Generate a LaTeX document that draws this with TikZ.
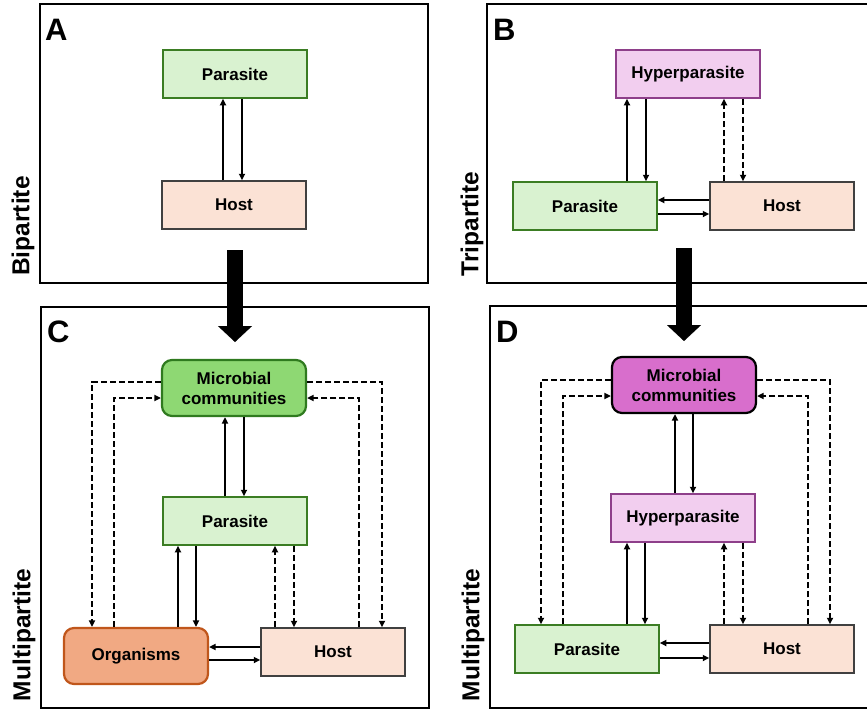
\documentclass[tikz,border=0pt]{standalone}
\usepackage{fontspec}
\setmainfont{Liberation Sans}
\usepackage{tikz}
\usetikzlibrary{arrows.meta,calc}

\definecolor{parfill}{HTML}{D9F2D0}
\definecolor{pardraw}{HTML}{3B7D23}
\definecolor{hostfill}{HTML}{FBE2D5}
\definecolor{hostdraw}{HTML}{404040}
\definecolor{hypfill}{HTML}{F2CEEF}
\definecolor{hypdraw}{HTML}{8E3F8A}
\definecolor{micCfill}{HTML}{8ED873}
\definecolor{micCdraw}{HTML}{2F7A1F}
\definecolor{orgfill}{HTML}{F1A983}
\definecolor{orgdraw}{HTML}{C0561B}
\definecolor{micDfill}{HTML}{D86ECC}

\begin{document}
\begin{tikzpicture}[x=1pt,y=-1pt,
  box/.style={draw,line width=1.5pt,minimum width=144pt,minimum height=48pt,inner sep=0pt,
    font=\fontsize{17}{20}\selectfont\bfseries,align=center},
  parbox/.style={box,draw=pardraw,fill=parfill},
  hostbox/.style={box,draw=hostdraw,fill=hostfill},
  hypbox/.style={box,draw=hypdraw,fill=hypfill},
  roundbox/.style={box,rounded corners=10pt,line width=2.2pt,minimum height=56pt},
  frame/.style={line width=2.5pt},
  arr/.style={line width=2pt,-{Triangle[length=6.5pt,width=6pt]}},
  darr/.style={arr,dash pattern=on 6pt off 3pt},
  bigarr/.style={line width=16.5pt,-{Triangle[length=16pt,width=34pt,line width=0.1pt]}},
  letter/.style={anchor=base west,inner sep=0pt,font=\fontsize{31}{31}\selectfont\bfseries},
  side/.style={rotate=90,inner sep=0pt,font=\fontsize{24.5}{25}\selectfont\bfseries}]
\useasboundingbox (0,0) rectangle (867,710);

% panel frames
\draw[frame] (40,4) rectangle (428,283);
\draw[frame] (867,4) -- (487,4) -- (487,283) -- (867,283);
\draw[frame] (41,307) rectangle (429,708);
\draw[frame] (867,306) -- (490,306) -- (490,708) -- (867,708);

\node[letter] (labA) at (45,40) {A};
\node[letter] (labB) at (493,40) {B};
\node[letter] (labC) at (47,342) {C};
\node[letter] (labD) at (496,342) {D};

\node[side] (sideA) at (23,226) {Bipartite};
\node[side] (sideB) at (472,224) {Tripartite};
\node[side] (sideC) at (24,635) {Multipartite};
\node[side] (sideD) at (473,635) {Multipartite};

% A: bipartite
\node[parbox] (parA) at (235,74) {Parasite};
\node[hostbox] (hostA) at (234,205) {Host};
\draw[arr] ([xshift=-11pt]hostA.north) -- ([xshift=-11pt]hostA.north |- parA.south);
\draw[arr] ([xshift=8pt]hostA.north |- parA.south) -- ([xshift=8pt]hostA.north);

% B: tripartite
\node[hypbox] (hypB) at (688,74) {Hyperparasite};
\node[parbox] (parB) at (585,206) {Parasite};
\node[hostbox] (hostB) at (782,206) {Host};
\draw[arr] ([xshift=-61pt]hypB.south |- parB.north) -- ([xshift=-61pt]hypB.south);
\draw[arr] ([xshift=-42pt]hypB.south) -- ([xshift=-42pt]hypB.south |- parB.north);
\draw[darr] ([xshift=36pt]hypB.south |- hostB.north) -- ([xshift=36pt]hypB.south);
\draw[darr] ([xshift=55pt]hypB.south) -- ([xshift=55pt]hypB.south |- hostB.north);
\draw[arr] ([yshift=6pt]hostB.west) -- ([yshift=6pt]hostB.west -| parB.east);
\draw[arr] ([yshift=-8pt]parB.east |- hostB.west) -- ([yshift=-8pt]hostB.west);

% C: multipartite
\node[roundbox,draw=micCdraw,fill=micCfill] (micC) at (234,388) {Microbial\\communities};
\node[parbox] (parC) at (235,521) {Parasite};
\node[roundbox,draw=orgdraw,fill=orgfill] (orgC) at (136,656) {Organisms};
\node[hostbox] (hostC) at (333,652) {Host};
\draw[arr] ([xshift=-10pt]parC.north) -- ([xshift=-10pt]parC.north |- micC.south);
\draw[arr] ([xshift=9pt]parC.north |- micC.south) -- ([xshift=9pt]parC.north);
\draw[arr] ([xshift=-57pt]parC.south |- orgC.north) -- ([xshift=-57pt]parC.south);
\draw[arr] ([xshift=-39pt]parC.south) -- ([xshift=-39pt]parC.south |- orgC.north);
\draw[darr] ([xshift=40pt]parC.south |- hostC.north) -- ([xshift=40pt]parC.south);
\draw[darr] ([xshift=59pt]parC.south) -- ([xshift=59pt]parC.south |- hostC.north);
\draw[arr] ([yshift=5pt]hostC.west) -- ([yshift=5pt]hostC.west -| orgC.east);
\draw[arr] ([yshift=-8pt]orgC.east |- hostC.west) -- ([yshift=-8pt]hostC.west);
\draw[darr] ([yshift=6pt]micC.west) -| ([xshift=-44pt]orgC.north);
\draw[darr] ([xshift=-22pt]orgC.north) |- ([yshift=-10pt]micC.west);
\draw[darr] ([yshift=6pt]micC.east) -| ([xshift=49pt]hostC.north);
\draw[darr] ([xshift=26pt]hostC.north) |- ([yshift=-10pt]micC.east);

% D: multipartite
\node[roundbox,draw=black,fill=micDfill] (micD) at (684,385) {Microbial\\communities};
\node[hypbox] (hypD) at (683,518) {Hyperparasite};
\node[parbox] (parD) at (587,649) {Parasite};
\node[hostbox] (hostD) at (782,649) {Host};
\draw[arr] ([xshift=-8pt]hypD.north) -- ([xshift=-8pt]hypD.north |- micD.south);
\draw[arr] ([xshift=10pt]hypD.north |- micD.south) -- ([xshift=10pt]hypD.north);
\draw[arr] ([xshift=-56pt]hypD.south |- parD.north) -- ([xshift=-56pt]hypD.south);
\draw[arr] ([xshift=-38pt]hypD.south) -- ([xshift=-38pt]hypD.south |- parD.north);
\draw[darr] ([xshift=41pt]hypD.south |- hostD.north) -- ([xshift=41pt]hypD.south);
\draw[darr] ([xshift=60pt]hypD.south) -- ([xshift=60pt]hypD.south |- hostD.north);
\draw[arr] ([yshift=6pt]hostD.west) -- ([yshift=6pt]hostD.west -| parD.east);
\draw[arr] ([yshift=-9pt]parD.east |- hostD.west) -- ([yshift=-9pt]hostD.west);
\draw[darr] ([yshift=5pt]micD.west) -| ([xshift=-46pt]parD.north);
\draw[darr] ([xshift=-24pt]parD.north) |- ([yshift=-11pt]micD.west);
\draw[darr] ([yshift=5pt]micD.east) -| ([xshift=48pt]hostD.north);
\draw[darr] ([xshift=26pt]hostD.north) |- ([yshift=-11pt]micD.east);

% big arrows between panels
\coordinate (bigAtop) at (235,250);
\coordinate (bigAbot) at (235,342);
\coordinate (bigBtop) at (684,248);
\coordinate (bigBbot) at (684,341);
\draw[bigarr] (bigAtop) -- (bigAbot);
\draw[bigarr] (bigBtop) -- (bigBbot);
\end{tikzpicture}
\end{document}
